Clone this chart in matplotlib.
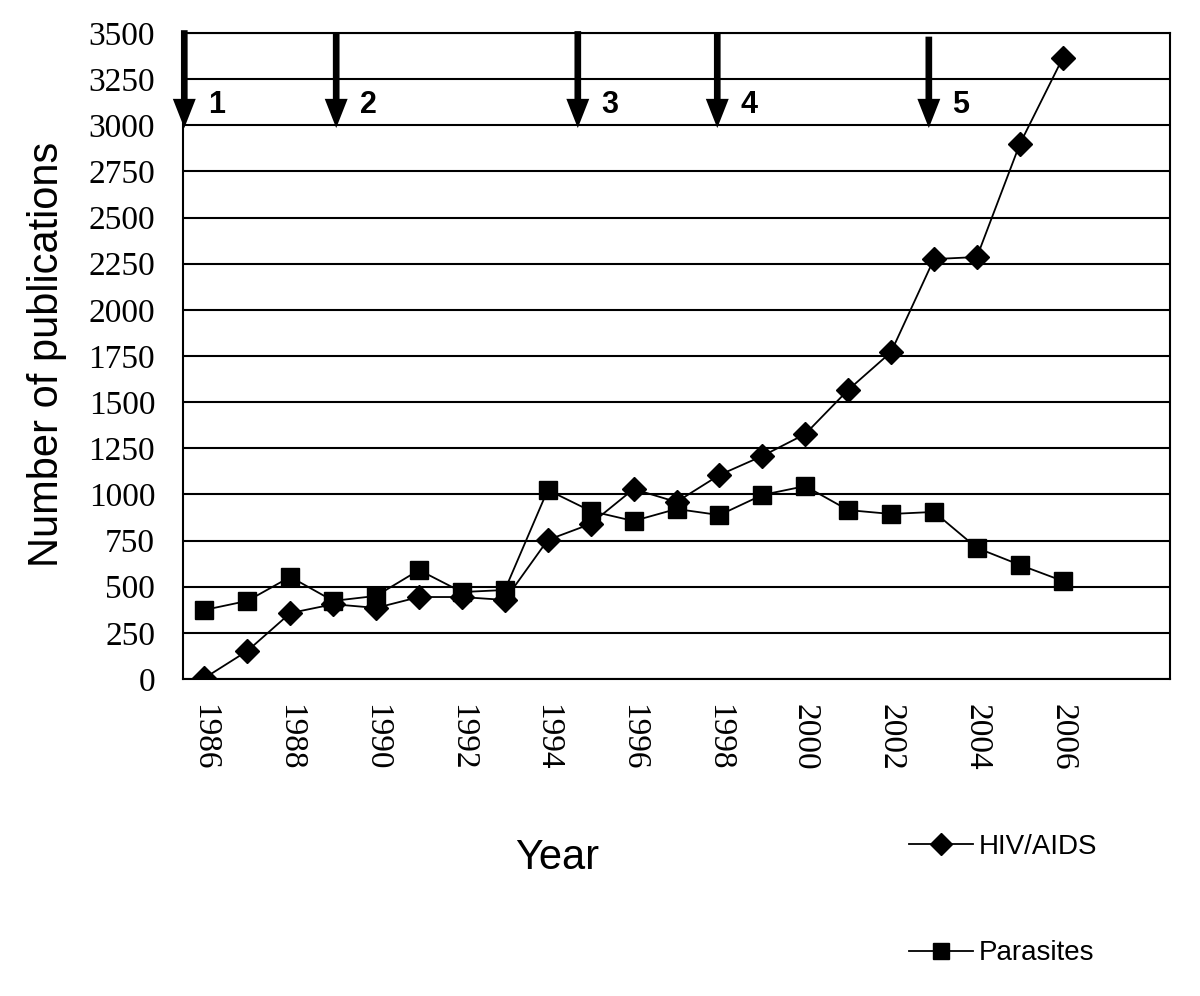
import matplotlib
matplotlib.use('Agg')
import matplotlib.pyplot as plt
from matplotlib.lines import Line2D

years = list(range(1986, 2007))
hiv = [5, 152, 357, 405, 385, 444, 444, 428, 753, 840, 1029, 959, 1105, 1208,
       1327, 1566, 1771, 2275, 2286, 2898, 3364]
parasites = [374, 423, 553, 423, 450, 590, 471, 482, 1024, 910, 856, 921, 888,
             997, 1045, 915, 894, 905, 710, 618, 531]

# Ereignis-Pfeile oben (Jahr, Nummer)
event_x = [1985.53, 1989.07, 1994.7, 1997.95, 2002.88]
event_lbl = ['1', '2', '3', '4', '5']
event_top = [3515, 3500, 3510, 3505, 3480]

yticks = list(range(0, 3501, 250))
xticks = list(range(1986, 2007, 2))

fig = plt.figure(figsize=(12, 9.96), dpi=100)
ax = fig.add_axes([0.1525, 0.3183, 0.8225, 0.6486])

ax.plot(years, hiv, color='black', lw=1.3, marker='D', markersize=12,
        label='HIV/AIDS', zorder=3)
ax.plot(years, parasites, color='black', lw=1.3, marker='s', markersize=13,
        label='Parasites', zorder=3)

ax.set_xlim(1985.5, 2008.5)
ax.set_ylim(0, 3500)
ax.set_yticks(yticks)
ax.set_xticks(xticks)
ax.set_xticklabels([str(x) for x in xticks], rotation=-90,
                   family='Liberation Serif', fontsize=24)
ax.set_yticklabels([str(y) for y in yticks], family='Liberation Serif',
                   fontsize=24)
ax.tick_params(length=0, pad=20)
ax.tick_params(axis='x', pad=18)
ax.yaxis.grid(True, color='black', lw=1.5)
ax.set_axisbelow(True)
for s in ['left', 'right', 'bottom', 'top']:
    ax.spines[s].set_linewidth(1.5)
    ax.spines[s].set_color('black')

for x, lbl, top in zip(event_x, event_lbl, event_top):
    ax.annotate('', xy=(x, 2985), xytext=(x, top),
                arrowprops=dict(arrowstyle='simple,head_length=1.4,head_width=1.1,tail_width=0.32',
                                mutation_scale=15, lw=0, fc='black', ec='black',
                                shrinkA=0, shrinkB=0),
                annotation_clip=False, zorder=5)
    ax.text(x + 0.55, 3110, lbl, fontsize=22, fontweight='bold',
            family='Liberation Sans', ha='left', va='center')

fig.text(0.039, 0.644, 'Number of publications', rotation=90, fontsize=30,
         family='Liberation Sans', ha='center', va='center')
fig.text(0.464, 0.139, 'Year', fontsize=30, family='Liberation Sans',
         ha='center', va='center')

handles = [Line2D([], [], color='black', lw=1.3, marker='D', markersize=11),
           Line2D([], [], color='black', lw=1.3, marker='s', markersize=12)]
fig.legend(handles, ['HIV/AIDS', 'Parasites'], loc='upper left',
           bbox_to_anchor=(0.737, 0.188), frameon=False,
           handlelength=2.3, handletextpad=0.2, labelspacing=2.9,
           prop={'family': 'Liberation Sans', 'size': 20})

fig.savefig('out.png', dpi=100)
